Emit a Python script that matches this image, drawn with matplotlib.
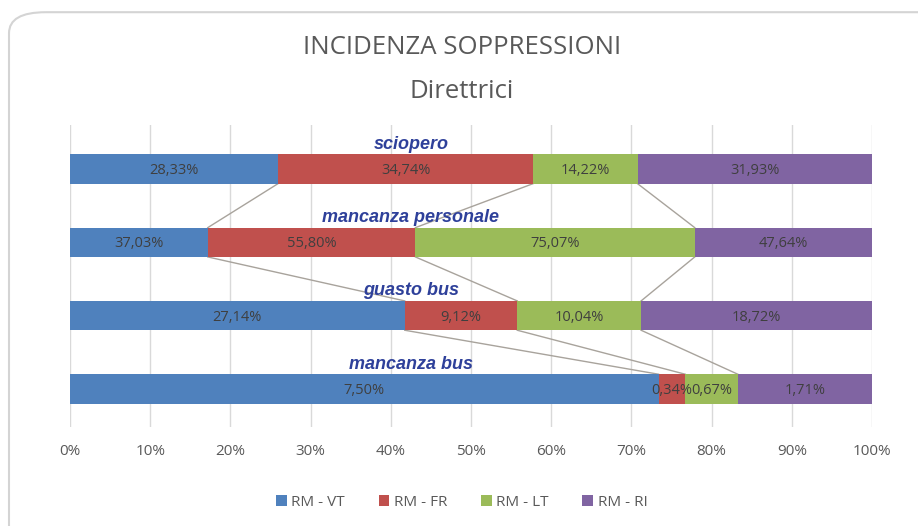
import matplotlib.pyplot as plt
from matplotlib.patches import FancyBboxPatch
import numpy as np

# dati
categorie = ['sciopero', 'mancanza personale', 'guasto bus', 'mancanza bus']
serie = ['RM - VT', 'RM - FR', 'RM - LT', 'RM - RI']
rm_vt = [28.33, 37.03, 27.14, 7.50]
rm_fr = [34.74, 55.80, 9.12, 0.34]
rm_lt = [14.22, 75.07, 10.04, 0.67]
rm_ri = [31.93, 47.64, 18.72, 1.71]
colori = ['#4F81BD', '#C0504D', '#9BBB59', '#8064A2']
tick_lbl = ['0%', '10%', '20%', '30%', '40%', '50%', '60%', '70%', '80%', '90%', '100%']

plt.rcParams['font.family'] = ['Open Sans', 'DejaVu Sans']

vals = np.array([rm_vt, rm_fr, rm_lt, rm_ri])  # serie x categorie
quote = vals / vals.sum(axis=0) * 100
cum = np.cumsum(quote, axis=0)
left = cum - quote

fig = plt.figure(figsize=(9.18, 5.26), dpi=100)
fig.patch.set_facecolor('white')

# cornice arrotondata
W, H = 918, 526
frame = FancyBboxPatch((9 / W, -0.2), 1.2, (514 + 105) / H, transform=fig.transFigure,
                       boxstyle='round,pad=0,rounding_size=0.04',
                       fc='white', ec='#d4d4d4', lw=1.5, zorder=-5)
fig.patches.append(frame)

ax = fig.add_axes([70 / W, 1 - 427 / H, 802 / W, (427 - 125) / H])
ax.set_facecolor('none')

y = np.arange(len(categorie))
h = 0.40
for i, nome in enumerate(serie):
    ax.barh(y, quote[i], left=left[i], height=h, color=colori[i], label=nome, zorder=3)
    for j in range(len(categorie)):
        txt = ('%.2f%%' % vals[i, j]).replace('.', ',')
        ax.text(left[i, j] + quote[i, j] / 2, y[j] + 0.02, txt, ha='center', va='center',
                fontsize=10.5, color='#3f3f3f', zorder=5)

# linee di serie tra le barre
for i in range(len(serie) - 1):
    for j in range(len(categorie) - 1):
        ax.plot([cum[i, j], cum[i, j + 1]], [y[j] + h / 2, y[j + 1] - h / 2],
                color='#a8a39c', lw=1, zorder=2)

for j, c in enumerate(categorie):
    ax.text(42.5, y[j] - h / 2 - 0.02, c, ha='center', va='bottom', fontsize=13,
            fontweight='bold', style='italic', color='#2E409A', zorder=6,
            family=['Liberation Sans', 'DejaVu Sans'])

ax.set_xlim(0, 100)
ax.set_ylim(3.52, -0.60)
ax.set_xticks(np.arange(0, 101, 10))
ax.set_xticklabels(tick_lbl, fontsize=11, color='#595959')
ax.set_yticks([])
ax.tick_params(axis='x', length=0, pad=12)
ax.grid(axis='x', color='#d9d9d9', lw=1, zorder=0)
for s in ax.spines.values():
    s.set_visible(False)

fig.text(0.503, 1 - 48 / H, 'INCIDENZA SOPPRESSIONI', ha='center', va='center',
         fontsize=18.5, color='#595959')
fig.text(0.503, 1 - 92 / H, 'Direttrici', ha='center', va='center',
         fontsize=18.5, color='#595959')

fig.legend(loc='center', bbox_to_anchor=(0.503, 1 - 502 / H), ncol=4, frameon=False,
           fontsize=11, handlelength=0.7, handleheight=0.7, handletextpad=0.3,
           columnspacing=2.2, labelcolor='#595959')

fig.savefig('out.png', dpi=100, facecolor='white')
